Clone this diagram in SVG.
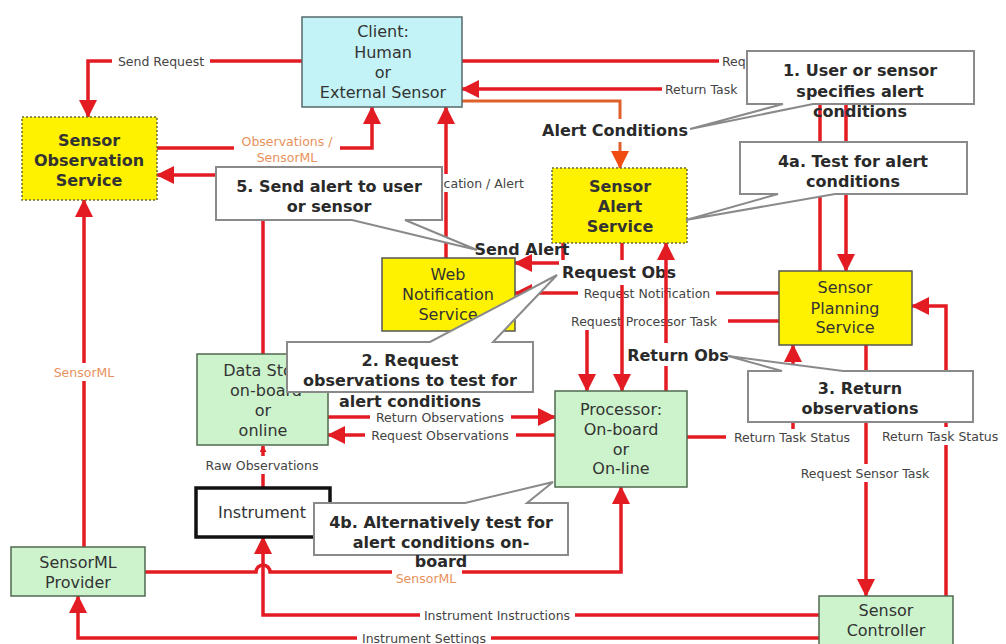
<svg xmlns="http://www.w3.org/2000/svg" width="1006" height="644" viewBox="0 0 1006 644">
<defs>
<style>
.ln{fill:none;stroke:#e31b23;stroke-width:3.5}
.lo{fill:none;stroke:#e0602c;stroke-width:3}
.bg{fill:#fff}
.t{font-family:"DejaVu Sans",sans-serif;text-anchor:middle;dominant-baseline:central}
.n{font-size:16px;fill:#333}
.b{font-weight:bold}
.l{font-size:12.5px;fill:#444}
.or{fill:#e8915a}
.c{font-size:16px;fill:#2a2a2a;font-weight:bold}
.ys{fill:#fff200;stroke:#555;stroke-width:1.5}
.yd{fill:#fff200;stroke:#6b6b30;stroke-width:1.5;stroke-dasharray:2 2}
.gr{fill:#cdf3cd;stroke:#4f6a4f;stroke-width:1.5}
.co{fill:#fff;stroke:#8a8a8a;stroke-width:2}
</style>
<marker id="ah" viewBox="0 0 18 18" refX="17" refY="9" markerWidth="18" markerHeight="18" markerUnits="userSpaceOnUse" orient="auto"><path d="M0,0 L18,9 L0,18 z" fill="#e31b23"/></marker>
<marker id="ao" viewBox="0 0 18 18" refX="17" refY="9" markerWidth="18" markerHeight="18" markerUnits="userSpaceOnUse" orient="auto"><path d="M0,0 L18,9 L0,18 z" fill="#f04d12"/></marker>
<marker id="as" viewBox="0 0 8 8" refX="7" refY="4" markerWidth="7" markerHeight="7" markerUnits="userSpaceOnUse" orient="auto"><path d="M0,0 L8,4 L0,8 z" fill="#e31b23"/></marker>
</defs>
<rect width="1006" height="644" fill="#fff"/>

<g id="connectors">
<path class="ln" d="M302,61 H88 V117" marker-end="url(#ah)"/>
<rect class="bg" x="112" y="53" width="98" height="16"/>
<text class="t l" x="161" y="61">Send Request</text>

<path class="ln" d="M462,61 H846 V271" marker-end="url(#ah)"/>
<rect class="bg" x="719" y="53" width="30" height="16"/>
<text class="t l" x="722" y="61" style="text-anchor:start">Req</text>

<path class="ln" d="M820,271 V89 H462" marker-end="url(#ah)"/>
<rect class="bg" x="662" y="81" width="90" height="16"/>
<text class="t l" x="665" y="89" style="text-anchor:start">Return Task</text>

<path class="lo" d="M462,101 H620 V168" marker-end="url(#ao)"/>
<rect class="bg" x="540" y="119" width="150" height="23"/>
<text class="t c" x="615" y="130">Alert Conditions</text>

<path class="ln" d="M157,148 H372 V107" marker-end="url(#ah)"/>
<rect class="bg" x="234" y="132" width="106" height="33"/>
<text class="t l or" x="287" y="141">Observations /</text>
<text class="t l or" x="287" y="157">SensorML</text>

<path class="ln" d="M263,354 V175 H157" marker-end="url(#ah)"/>

<path class="ln" d="M446,258 V107" marker-end="url(#ah)"/>
<rect class="bg" x="410" y="174" width="117" height="18"/>
<text class="t l" x="524" y="183" style="text-anchor:end">Notification / Alert</text>

<path class="ln" d="M563,243 V263 H515" marker-end="url(#ah)"/>

<path class="ln" d="M779,293 H515" marker-end="url(#ah)"/>
<rect class="bg" x="578" y="285" width="138" height="17"/>
<text class="t l" x="647" y="293">Request Notification</text>

<path class="ln" d="M779,321 H587 V391" marker-end="url(#ah)"/>
<rect class="bg" x="561" y="312" width="167" height="18"/>
<text class="t l" x="644" y="321">Request Processor Task</text>

<path class="ln" d="M622,243 V391" marker-end="url(#ah)"/>
<rect class="bg" x="559" y="260" width="120" height="25"/>
<text class="t c" x="619" y="272">Request Obs</text>

<path class="ln" d="M666,391 V243" marker-end="url(#ah)"/>
<rect class="bg" x="624" y="343" width="108" height="23"/>
<text class="t c" x="678" y="355">Return Obs</text>

<text class="t c" x="522" y="249">Send Alert</text>

<path class="ln" d="M687,437 H793 V345" marker-end="url(#ah)"/>
<rect class="bg" x="726" y="429" width="132" height="17"/>
<text class="t l" x="792" y="437">Return Task Status</text>

<path class="ln" d="M866,345 V596" marker-end="url(#ah)"/>
<rect class="bg" x="792" y="464" width="147" height="18"/>
<text class="t l" x="865" y="473">Request Sensor Task</text>

<path class="ln" d="M946,596 V306 H912" marker-end="url(#ah)"/>
<rect class="bg" x="879" y="427" width="127" height="18"/>
<text class="t l" x="882" y="436" style="text-anchor:start">Return Task Status</text>

<path class="ln" d="M328,417 H555" marker-end="url(#ah)"/>
<rect class="bg" x="370" y="409" width="141" height="16"/>
<text class="t l" x="440" y="417">Return Observations</text>

<path class="ln" d="M555,435 H328" marker-end="url(#ah)"/>
<rect class="bg" x="365" y="427" width="151" height="16"/>
<text class="t l" x="440" y="435">Request Observations</text>

<path class="ln" d="M263,487 V446" marker-end="url(#as)"/>
<rect class="bg" x="199" y="456" width="127" height="18"/>
<text class="t l" x="262" y="465">Raw Observations</text>

<path class="ln" d="M84,547 V200" marker-end="url(#ah)"/>
<rect class="bg" x="50" y="363" width="70" height="18"/>
<text class="t l or" x="84" y="372">SensorML</text>

<path class="ln" d="M819,615 H263 V537" marker-end="url(#ah)"/>
<rect class="bg" x="420" y="607" width="155" height="17"/>
<text class="t l" x="497" y="615">Instrument Instructions</text>

<path class="ln" d="M145,572 H256 A7,7 0 0 1 270,572 H621 V487" marker-end="url(#ah)"/>
<rect class="bg" x="392" y="567" width="70" height="18"/>
<text class="t l or" x="426" y="578">SensorML</text>

<path class="ln" d="M819,638 H78 V596" marker-end="url(#ah)"/>
<rect class="bg" x="357" y="630" width="134" height="16"/>
<text class="t l" x="424" y="638">Instrument Settings</text>
</g>

<g id="client">
<rect x="302" y="17" width="160" height="90" fill="#c3f3f6" stroke="#55696b" stroke-width="1.5"/>
<text class="t n" x="383" y="31">Client:</text>
<text class="t n" x="383" y="52">Human</text>
<text class="t n" x="383" y="72">or</text>
<text class="t n" x="383" y="92">External Sensor</text>
</g>
<g id="sos">
<rect class="yd" x="22" y="117" width="135" height="83"/>
<text class="t n b" x="89" y="140">Sensor</text>
<text class="t n b" x="89" y="160">Observation</text>
<text class="t n b" x="89" y="180">Service</text>
</g>
<g id="sas">
<rect class="yd" x="552" y="168" width="135" height="75"/>
<text class="t n b" x="620" y="186">Sensor</text>
<text class="t n b" x="620" y="206">Alert</text>
<text class="t n b" x="620" y="226">Service</text>
</g>
<g id="wns">
<rect class="ys" x="382" y="258" width="133" height="73"/>
<text class="t n" x="448" y="274">Web</text>
<text class="t n" x="448" y="294">Notification</text>
<text class="t n" x="448" y="314">Service</text>
</g>
<g id="sps">
<rect class="ys" x="779" y="271" width="133" height="74"/>
<text class="t n" x="845" y="287">Sensor</text>
<text class="t n" x="845" y="308">Planning</text>
<text class="t n" x="845" y="327">Service</text>
</g>
<g id="datastore">
<rect class="gr" x="197" y="354" width="131" height="91"/>
<text class="t n" x="266" y="370">Data Store</text>
<text class="t n" x="266" y="390">on-board</text>
<text class="t n" x="263" y="410">or</text>
<text class="t n" x="263" y="430">online</text>
</g>
<g id="processor">
<rect class="gr" x="555" y="391" width="132" height="96"/>
<text class="t n" x="621" y="409">Processor:</text>
<text class="t n" x="621" y="429">On-board</text>
<text class="t n" x="621" y="449">or</text>
<text class="t n" x="621" y="468">On-line</text>
</g>
<g id="instrument">
<rect x="196" y="488" width="134" height="49" fill="#fff" stroke="#111" stroke-width="3.5"/>
<text class="t n" x="262" y="512">Instrument</text>
</g>
<g id="smlprovider">
<rect class="gr" x="11" y="547" width="134" height="49"/>
<text class="t n" x="78" y="562">SensorML</text>
<text class="t n" x="78" y="582">Provider</text>
</g>
<g id="controller">
<rect class="gr" x="819" y="596" width="134" height="54"/>
<text class="t n" x="886" y="610">Sensor</text>
<text class="t n" x="886" y="630">Controller</text>
</g>

<g id="callout1">
<path class="co" d="M747,51 H974 V104 H813 L690,129 L783,104 H747 Z"/>
<text class="t c" x="860" y="70">1. User or sensor</text>
<text class="t c" x="860" y="91">specifies alert</text>
<text class="t c" x="860" y="111">conditions</text>
</g>
<g id="callout4a">
<path class="co" d="M740,142 H967 V194 H835 L686,220 L778,194 H740 Z"/>
<text class="t c" x="853" y="161">4a. Test for alert</text>
<text class="t c" x="853" y="181">conditions</text>
</g>
<g id="callout5">
<path class="co" d="M216,167 H442 V220 H405 L477,250 L352,220 H216 Z"/>
<text class="t c" x="329" y="186">5. Send alert to user</text>
<text class="t c" x="329" y="206">or sensor</text>
</g>
<g id="callout2">
<path class="co" d="M287,342 H430 L557,275 L493,342 H533 V392 H287 Z"/>
<text class="t c" x="410" y="360">2. Request</text>
<text class="t c" x="410" y="380">observations to test for</text>
<text class="t c" x="410" y="401">alert conditions</text>
</g>
<g id="callout3">
<path class="co" d="M748,371 H782 L728,356 L843,371 H973 V422 H748 Z"/>
<text class="t c" x="860" y="388">3. Return</text>
<text class="t c" x="860" y="408">observations</text>
</g>
<g id="callout4b">
<path class="co" d="M314,503 H465 L553,482 L527,503 H568 V555 H314 Z"/>
<text class="t c" x="441" y="522">4b. Alternatively test for</text>
<text class="t c" x="441" y="542">alert conditions on-</text>
<text class="t c" x="441" y="561">board</text>
</g>
</svg>
